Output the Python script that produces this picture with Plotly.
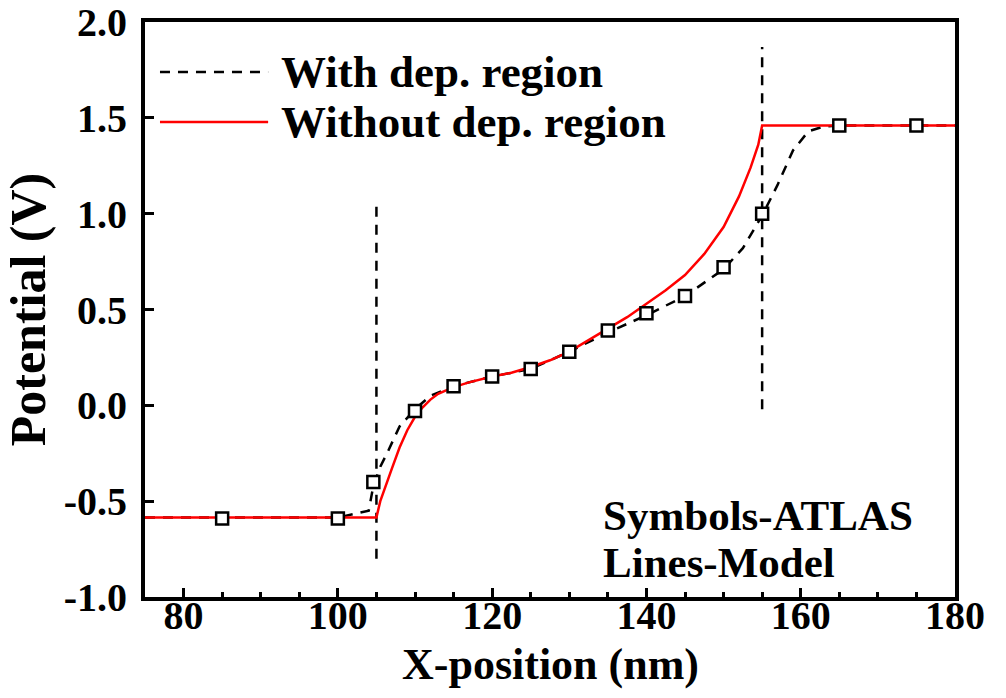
import plotly.graph_objects as go

# ATLAS symbols
atlas_x = [85, 100, 104.6, 110, 115, 120, 125, 130, 135, 140, 145, 150, 155, 165, 175]
atlas_y = [-0.59, -0.59, -0.40, -0.03, 0.10, 0.15, 0.19, 0.28, 0.39, 0.48, 0.57, 0.72, 1.00, 1.46, 1.46]

# Model with depletion region (dashed)
dep_x = [75, 100, 104, 104.6, 105.5, 106.5, 108, 110, 112, 115, 120, 125, 130, 135, 140, 145, 150, 152.5, 155, 157, 159, 161, 163, 165, 180]
dep_y = [-0.585, -0.585, -0.55, -0.42, -0.32, -0.24, -0.11, -0.02, 0.05, 0.10, 0.15, 0.19, 0.28, 0.38, 0.47, 0.57, 0.71, 0.82, 0.99, 1.15, 1.33, 1.43, 1.455, 1.46, 1.46]

# Model without depletion region (red)
nodep_x = [75, 105, 105.5, 106, 107, 108, 109, 110, 111, 112, 113, 115, 117, 120, 122.5, 125, 127.5, 130, 132.5, 135, 137.5, 140, 142.5, 145, 147.5, 150, 152, 153.5, 154.5, 155, 180]
nodep_y = [-0.585, -0.585, -0.50, -0.44, -0.33, -0.22, -0.13, -0.06, -0.01, 0.03, 0.06, 0.095, 0.12, 0.15, 0.17, 0.20, 0.235, 0.28, 0.34, 0.40, 0.46, 0.53, 0.60, 0.68, 0.79, 0.93, 1.09, 1.24, 1.36, 1.46, 1.46]

# Depletion region boundaries (vertical dashed)
bound1_x = [105, 105]
bound1_y = [-0.8, 1.07]
bound2_x = [155, 155]
bound2_y = [-0.02, 1.87]

x_ticks = [80, 100, 120, 140, 160, 180]
y_ticks = [-1.0, -0.5, 0.0, 0.5, 1.0, 1.5, 2.0]

FONT = "Liberation Serif, Times New Roman, Times, serif"
dash = "10px,8px"

fig = go.Figure()
for bx, by in [(bound1_x, bound1_y), (bound2_x, bound2_y)]:
    fig.add_trace(go.Scatter(x=bx, y=by, mode="lines", showlegend=False,
                             line=dict(color="black", width=2.5, dash=dash)))
fig.add_trace(go.Scatter(x=dep_x, y=dep_y, mode="lines", name="With dep. region",
                         showlegend=False, line=dict(color="black", width=2.5, dash=dash)))
fig.add_trace(go.Scatter(x=nodep_x, y=nodep_y, mode="lines", name="Without dep. region",
                         showlegend=False, line=dict(color="#ff0000", width=2.5)))
fig.add_trace(go.Scatter(x=atlas_x, y=atlas_y, mode="markers", showlegend=False,
                         marker=dict(symbol="square", size=12, color="white",
                                     line=dict(color="black", width=2.5))))

# Legend (drawn manually for long line samples)
fig.add_shape(type="line", xref="paper", yref="paper", x0=0.0185, x1=0.152, y0=0.913, y1=0.913,
              line=dict(color="black", width=2.5, dash=dash))
fig.add_shape(type="line", xref="paper", yref="paper", x0=0.0185, x1=0.152, y0=0.826, y1=0.826,
              line=dict(color="#ff0000", width=2.5))
fig.add_annotation(xref="paper", yref="paper", x=0.165, y=0.913, xanchor="left", yanchor="middle",
                   text="<b>With dep. region</b>", showarrow=False,
                   font=dict(family=FONT, size=45, color="black"))
fig.add_annotation(xref="paper", yref="paper", x=0.165, y=0.826, xanchor="left", yanchor="middle",
                   text="<b>Without dep. region</b>", showarrow=False,
                   font=dict(family=FONT, size=45, color="black"))
fig.add_annotation(xref="paper", yref="paper", x=0.563, y=0.141, xanchor="left", yanchor="middle",
                   text="<b>Symbols-ATLAS</b>", showarrow=False,
                   font=dict(family=FONT, size=43, color="black"))
fig.add_annotation(xref="paper", yref="paper", x=0.563, y=0.060, xanchor="left", yanchor="middle",
                   text="<b>Lines-Model</b>", showarrow=False,
                   font=dict(family=FONT, size=43, color="black"))
# X axis title
fig.add_annotation(xref="paper", yref="paper", x=0.5, y=-0.118, xanchor="center", yanchor="middle",
                   text="<b>X-position (nm)</b>", showarrow=False,
                   font=dict(family=FONT, size=44, color="black"))

fig.update_layout(
    width=1006, height=698,
    margin=dict(l=145, r=51, t=22, b=101, autoexpand=False),
    paper_bgcolor="white", plot_bgcolor="white",
    font=dict(family=FONT, color="black"),
)
fig.update_xaxes(
    range=[75, 180], tickvals=x_ticks, ticktext=[str(v) for v in x_ticks],
    showgrid=False, zeroline=False, automargin=False,
    showline=True, mirror=True, linecolor="black", linewidth=4,
    ticks="inside", ticklen=9, tickwidth=3, tickcolor="black",
    minor=dict(dtick=5, tick0=75, ticks="inside", ticklen=5, tickwidth=3, tickcolor="black"),
    tickfont=dict(family=FONT, size=40, color="black", weight="bold"),
    ticklabelstandoff=-20,
)
fig.update_yaxes(
    range=[-1.0, 2.0], tickvals=y_ticks, ticktext=[f"{v:.1f}" for v in y_ticks],
    showgrid=False, zeroline=False, automargin=True,
    showline=True, mirror=True, linecolor="black", linewidth=4,
    ticks="inside", ticklen=9, tickwidth=3, tickcolor="black",
    tickfont=dict(family=FONT, size=40, color="black", weight="bold"),
    ticklabelstandoff=6,
    title=dict(text="<b>Potential (V)</b>", font=dict(family=FONT, size=50, color="black"), standoff=6),
)

fig.write_html("out.html")
